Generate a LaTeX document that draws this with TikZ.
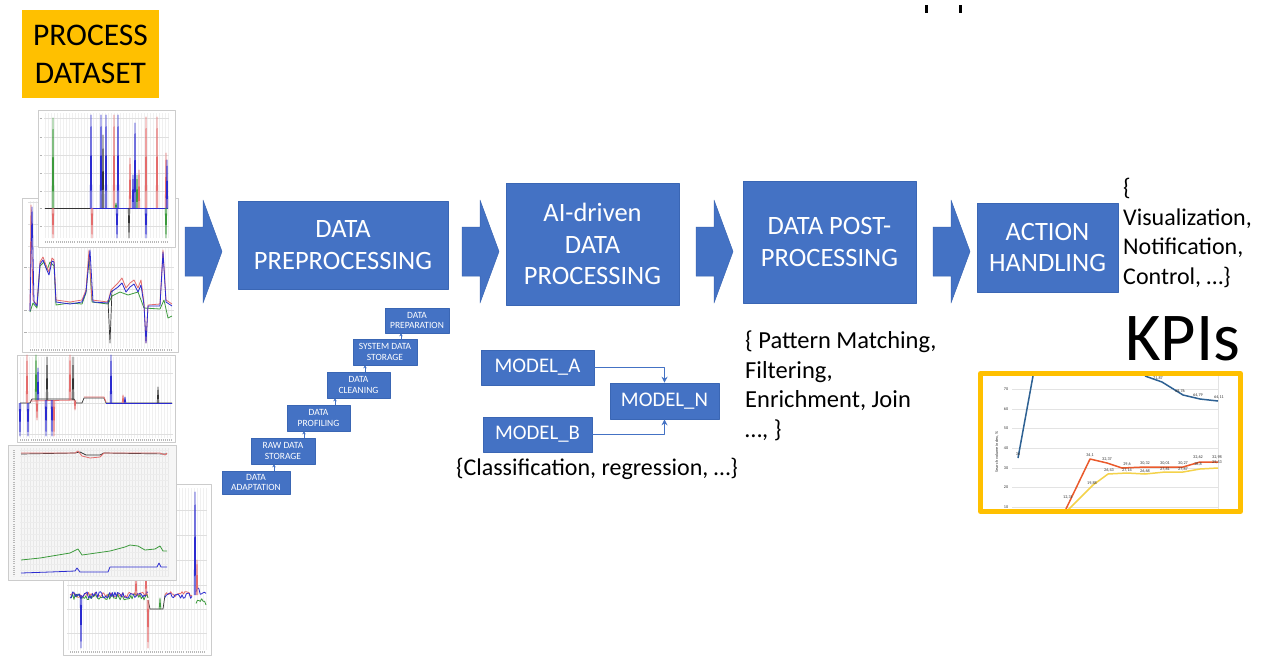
\documentclass[tikz,border=0pt]{standalone}
\usepackage{fontspec}
\setmainfont{Carlito}
\usetikzlibrary{arrows.meta}
\newcommand\fpx[2]{\fontsize{#1}{#2}\selectfont}
\definecolor{stageblue}{HTML}{4472C4}
\definecolor{stageedge}{HTML}{3A66B4}
\definecolor{amber}{HTML}{FFC000}
\definecolor{pred}{HTML}{E46C6C}
\definecolor{pgreen}{HTML}{3C9A3C}
\definecolor{pblue}{HTML}{2B2BD0}
\definecolor{pblack}{HTML}{333333}
\definecolor{kblue}{HTML}{2E6193}
\definecolor{kred}{HTML}{EA5A2C}
\definecolor{kyellow}{HTML}{F4D24A}
\tikzset{
  stage/.style={fill=stageblue, draw=stageedge, line width=0.8, text=white,
    align=center, inner sep=0, font=\fpx{26.5}{31.5}},
  substage/.style={fill=stageblue, draw=stageedge, line width=0.6, text=white,
    align=center, inner sep=0, font=\fpx{9.5}{10.8}},
  modelbox/.style={fill=stageblue, draw=stageedge, line width=0.6, text=white,
    inner sep=0, font=\fpx{20.8}{24}},
  note/.style={align=left, inner sep=0, anchor=north west, font=\fpx{24.5}{29.5}},
  blockarrow/.style={fill=stageblue, draw=stageedge, line width=0.5},
  stairarrow/.style={draw=stageblue, line width=0.9, -{Stealth[length=3,width=3.5]}},
  modellink/.style={draw=stageblue, line width=0.9, -{Stealth[length=6,width=6]}},
  plotframe/.style={fill=white, draw=gray!40, line width=0.6},
  gridv/.style={draw=gray!12, line width=0.35},
  gridh/.style={draw=gray!25, line width=0.4},
  ticks/.style={draw=gray!55, line width=1.6, dash pattern=on 0.5 off 1.6},
  sred/.style={draw=pred, line width=0.8},
  sgreen/.style={draw=pgreen, line width=0.8},
  sblue/.style={draw=pblue, line width=0.8},
  sblack/.style={draw=pblack, line width=0.7},
  kgrid/.style={draw=gray!22, line width=0.5},
  klabel/.style={inner sep=0, font=\fpx{4.2}{5}, text=black!80},
  kframe/.style={draw=amber, line width=5},
}
% block arrow whose shaft starts at the given x
\newcommand\blockarrowat[1]{%
  \begin{scope}[xshift=#1]
    \filldraw[blockarrow] (0,227) -- (18,227) -- (18,200) -- (37,251.5)
      -- (18,303) -- (18,276) -- (0,276) -- cycle;
  \end{scope}}
% up/down spike on a baseline: x, baseline, peak, style
\newcommand\spike[4]{\draw[#4] (#1-0.8,#2) -- (#1,#3) -- (#1+0.8,#2);}

\begin{document}
\begin{tikzpicture}[x=1pt,y=-1pt, line join=round]
\useasboundingbox[fill=white] (0,0) rectangle (1266,657);
\pgfmathsetseed{11}

% ---------- stacked sensor plots ----------
% plot 5 (bottom right, partly hidden)
\filldraw[plotframe] (63,484) rectangle (211,655);
\foreach \gx in {68,71,...,206} \draw[gridv] (\gx,488) -- (\gx,650);
\foreach \gy in {510,535,560,585,609,633} \draw[gridh] (67,\gy) -- (207,\gy);
\draw[ticks] (70,652) -- (205,652);
\draw[sred] plot[domain=70:148, samples=60] (\x,{595+3*rand});
\draw[sgreen] plot[domain=70:148, samples=60] (\x,{597+3*rand});
\draw[sblue] plot[domain=70:148, samples=60] (\x,{595+3.5*rand});
\draw[sblack] (148,600) -- (150,609) -- (163,609) -- (165,595);
\draw[sred] plot[domain=165:192, samples=20] (\x,{594+3*rand});
\draw[sblue] plot[domain=165:192, samples=20] (\x,{596+3*rand});
\draw[sgreen] plot[domain=196:206, samples=8] (\x,{600+5*rand});
\draw[sblue] plot[domain=196:206, samples=8] (\x,{592+5*rand});
\spike{81}{595}{648}{sblue}
\spike{136}{595}{575}{sred}
\spike{146}{595}{560}{sred}
\spike{148}{600}{648}{sred}
\spike{160}{609}{598}{sgreen}
\spike{195}{595}{492}{sblue}
\spike{197}{595}{560}{sred}

% plot 4 (wide, light grey grid)
\filldraw[plotframe, fill=gray!7] (8,445) rectangle (176,580);
\foreach \gx in {21,24,...,168} \draw[gridv, draw=gray!18] (\gx,448) -- (\gx,576);
\foreach \gy in {450,456,...,576} \draw[gridv, draw=gray!15] (20,\gy) -- (169,\gy);
\draw[ticks] (14,450) -- (14,576);
\draw[sblack] (21,454) -- (75,453) -- (80,452) -- (86,455) -- (100,455) -- (104,453) -- (167,454);
\draw[sred] (21,453) -- (75,453) -- (78,451) -- (82,456) -- (90,458) -- (100,457) -- (104,453) -- (160,453) -- (165,455) -- (167,453);
\draw[sgreen] (21,560) -- (40,558) -- (70,553) -- (78,549) -- (82,555) -- (110,551) -- (125,547) -- (130,545) -- (138,546) -- (145,550) -- (155,549) -- (160,546) -- (163,551) -- (167,551);
\draw[sblue] (21,573) -- (50,572) -- (75,571) -- (77,568) -- (80,572) -- (108,572) -- (110,567) -- (157,567) -- (159,563) -- (161,567) -- (167,567);

% plot 3
\filldraw[plotframe] (17,355) rectangle (175,442);
\foreach \gx in {20,23,...,172} \draw[gridv] (\gx,357) -- (\gx,438);
\foreach \gy in {373,403,434} \draw[gridh] (19,\gy) -- (173,\gy);
\draw[ticks] (20,440) -- (172,440);
\draw[sblack] (20,403) -- (30,403) -- (32,399) -- (74,399) -- (76,403) -- (82,403) -- (84,398) -- (104,398) -- (106,403) -- (172,403);
\draw[sred] (30,401) -- (74,400) (84,397) -- (104,397) -- (106,402);
\draw[sblue] (106,403) -- (172,403);
\spike{27}{403}{355}{sred}
\spike{20}{403}{436}{sblue}
\spike{28}{403}{436}{sblue}
\spike{36}{400}{355}{sgreen}
\spike{37}{400}{420}{sred}
\spike{38}{400}{368}{sblue}
\spike{46}{400}{436}{sblue}
\spike{47}{400}{357}{sblack}
\spike{52}{400}{436}{sblue}
\spike{54}{400}{436}{sred}
\spike{70}{400}{355}{sred}
\spike{73}{400}{357}{sblack}
\spike{75}{400}{410}{sred}
\spike{111}{403}{355}{sblue}
\spike{123}{403}{395}{sred}
\spike{125}{403}{397}{sblue}
\spike{158}{403}{387}{sblack}

% plot 2
\filldraw[plotframe] (22,198) rectangle (178,352);
\foreach \gx in {30,33,...,172} \draw[gridv] (\gx,201) -- (\gx,348);
\foreach \gy in {202,224,246,267,289,310,332} \draw[gridh] (28,\gy) -- (174,\gy);
\foreach \gy in {267,310,332} \draw[gray!60, line width=0.6] (24,\gy) -- (27,\gy);
\draw[ticks] (30,350) -- (172,350);
\draw[sgreen] (30,312) -- (33,303) -- (37,308) -- (40,266) -- (44,262) -- (47,270) -- (50,262) -- (54,266) -- (56,305) -- (70,303) -- (82,304) -- (86,293) -- (89,256) -- (92,302) -- (108,304) -- (112,296) -- (120,292) -- (128,295) -- (138,292) -- (144,308) -- (160,309) -- (164,300) -- (168,318) -- (172,316);
\draw[sred] (30,310) -- (31,205) -- (33,300) -- (37,305) -- (40,262) -- (43,257) -- (46,265) -- (49,272) -- (52,258) -- (54,260) -- (56,300) -- (70,302) -- (82,300) -- (86,290) -- (89,250) -- (92,300) -- (108,302) -- (111,290) -- (118,283) -- (122,278) -- (126,288) -- (130,283) -- (134,280) -- (138,288) -- (141,280) -- (144,303) -- (146,343) -- (148,305) -- (160,304) -- (163,250) -- (166,300) -- (172,304);
\draw[sblue] (30,311) -- (32,207) -- (34,302) -- (37,306) -- (40,264) -- (43,260) -- (46,268) -- (49,275) -- (52,261) -- (54,262) -- (56,302) -- (70,304) -- (82,302) -- (86,292) -- (90,250) -- (93,302) -- (108,303) -- (111,292) -- (118,287) -- (122,283) -- (126,292) -- (130,287) -- (134,284) -- (138,292) -- (141,285) -- (144,305) -- (146,343) -- (148,306) -- (160,306) -- (163,252) -- (166,302) -- (172,306);
\draw[sblack] (108,300) -- (110,343) -- (112,290);

% plot 1 (top)
\filldraw[plotframe] (38,110) rectangle (175,247);
\foreach \gx in {45,48,...,168} \draw[gridv] (\gx,113) -- (\gx,238);
\foreach \gy in {118,137,155,173,191,208,226} \draw[gridh] (44,\gy) -- (169,\gy);
\foreach \gy in {118,137,155,173,191,208,226} \draw[gray!60, line width=0.6] (39.5,\gy) -- (42,\gy);
\draw[ticks] (45,242) -- (168,242);
\draw[sblue] (45,208) -- (168,208);
\draw[sblack] (45,208.4) -- (90,208.4);
\spike{53}{208}{118}{sgreen}
\spike{53}{208}{238}{sred}
\spike{91}{208}{115}{sblue}
\spike{92}{208}{238}{sred}
\spike{101}{208}{115}{sblue}
\spike{103}{208}{135}{sblack}
\spike{106}{208}{115}{sblue}
\spike{114}{208}{115}{sred}
\spike{116}{208}{203}{sgreen}
\spike{117}{208}{238}{sblue}
\spike{118}{208}{115}{sblue}
\spike{129}{208}{238}{sblack}
\spike{130}{208}{158}{sred}
\spike{133}{208}{175}{sblue}
\spike{135}{208}{123}{sblue}
\spike{137}{208}{175}{sgreen}
\spike{139}{208}{170}{sred}
\spike{146}{208}{117}{sred}
\spike{146}{208}{238}{sblue}
\spike{157}{208}{117}{sred}
\spike{166}{208}{153}{sred}
\spike{166}{208}{238}{sgreen}
\spike{167}{208}{160}{sblue}

% ---------- title ----------
\node[fill=amber, minimum width=137, minimum height=88, align=center,
  inner sep=0, font=\fpx{31.5}{38}] (title) at (90.5,54) {PROCESS\\DATASET};

% ---------- pipeline ----------
\blockarrowat{185}
\node[stage, minimum width=210, minimum height=88] (pre) at (343,245)
  {DATA\\PREPROCESSING};
\blockarrowat{462}
\node[stage, minimum width=173, minimum height=122] (ai) at (592.5,244)
  {AI-driven\\DATA\\PROCESSING};
\blockarrowat{696}
\node[stage, minimum width=173, minimum height=122] (post) at (829.5,242)
  {DATA POST-\\PROCESSING};
\blockarrowat{933}
\node[stage, minimum width=141, minimum height=89] (act) at (1047.5,247.5)
  {ACTION\\HANDLING};

\node[note, font=\fpx{24}{29.5}] (outputs) at (1123,178)
  {\{\\Visualization,\\Notification,\\Control, …\}};

% ---------- preprocessing steps ----------
\node[substage, minimum width=68, minimum height=23] (adapt) at (256,482.5) {DATA\\ADAPTATION};
\node[substage, minimum width=64, minimum height=26] (raw) at (283,451) {RAW DATA\\STORAGE};
\node[substage, minimum width=63, minimum height=26] (prof) at (318.5,418) {DATA\\PROFILING};
\node[substage, minimum width=63, minimum height=26] (clean) at (358.5,385) {DATA\\CLEANING};
\node[substage, minimum width=64, minimum height=26] (sys) at (385,352) {SYSTEM DATA\\STORAGE};
\node[substage, minimum width=64, minimum height=25] (prep) at (417,320.5) {DATA\\PREPARATION};
\draw[stairarrow] ([xshift=18]adapt.north) -- ([xshift=-9]raw.south);
\draw[stairarrow] ([xshift=21]raw.north) -- ([xshift=-14.5]prof.south);
\draw[stairarrow] ([xshift=16.5]prof.north) -- ([xshift=-23.5]clean.south);
\draw[stairarrow] ([xshift=6.5]clean.north) -- ([xshift=-20]sys.south);
\draw[stairarrow] ([xshift=16]sys.north) -- ([xshift=-16]prep.south);

% ---------- models ----------
\node[modelbox, minimum width=113, minimum height=35] (ma) at (537.5,367.5) {MODEL\_A};
\node[modelbox, minimum width=109, minimum height=36] (mn) at (664.5,401) {MODEL\_N};
\node[modelbox, minimum width=109, minimum height=35] (mb) at (537.5,434.5) {MODEL\_B};
\draw[modellink] (ma.east) -| (mn.north);
\draw[modellink] (mb.east) -| (mn.south);
\node[inner sep=0, font=\fpx{24}{29}] (tasks) at (597,469)
  {\{Classification, regression, …\}};

\node[note] (postops) at (745,331)
  {\{ Pattern Matching,\\Filtering,\\Enrichment, Join\\…, \}};

% ---------- KPIs ----------
\node[inner sep=0, font=\fpx{68.5}{80}] (kpi) at (1182.5,339) {KPIs};
\fill[white] (983,376) rectangle (1238,509);
\foreach \gy in {389,409,428,448,468,487,507} \draw[kgrid] (1012,\gy) -- (1218,\gy);
\foreach \gy/\lab in {389/70,409/60,428/50,448/40,468/30,487/20,507/10}
  \node[klabel] at (1006,\gy) {\lab};
\draw[kgrid] (1218,376) -- (1218,509);
\node[klabel, rotate=90] at (997,452) {Search volume index, \%};
\draw[kblue, line width=1.5] (1018,458) -- (1033,376);
\draw[kblue, line width=1.5] (1145,376) -- (1162,382) -- (1183,395) -- (1200,399) -- (1218,401);
\draw[kred, line width=1.5] (1065,511) -- (1090,459) -- (1107,463) -- (1122,468) -- (1145,467) -- (1165,467) -- (1183,467) -- (1200,462) -- (1218,462);
\draw[kyellow, line width=1.5] (1067,511) -- (1093,485) -- (1108,474) -- (1127,473) -- (1145,474) -- (1165,472) -- (1183,472) -- (1200,469) -- (1218,468);
\foreach \px/\py/\lab in {1018/454/36,1158/378/71{,}87,1180/391/68{,}76,1198/395/64{,}79,1219/397/64{,}11,
  1090/455/34{,}1,1107/459/32{,}37,1127/464/29{,}6,1145/463/30{,}32,1165/463/30{,}01,1183/463/30{,}27,1198/457/32{,}62,1217/457/32{,}98,
  1068/497/12{,}31,1092/483/19{,}88,1109/470/26{,}43,1127/470/27{,}14,1145/471/26{,}68,1165/469/27{,}81,1183/469/27{,}87,1198/464/28{,}8,1217/462/29{,}53}
  \node[klabel] at (\px,\py) {\lab};
\draw[kframe] (980.5,373.5) rectangle (1240.5,511.5);

% ---------- marks at the top edge ----------
\fill[black] (925,5) rectangle (928,13);
\fill[black] (959,5) rectangle (962,13);
\end{tikzpicture}
\end{document}
